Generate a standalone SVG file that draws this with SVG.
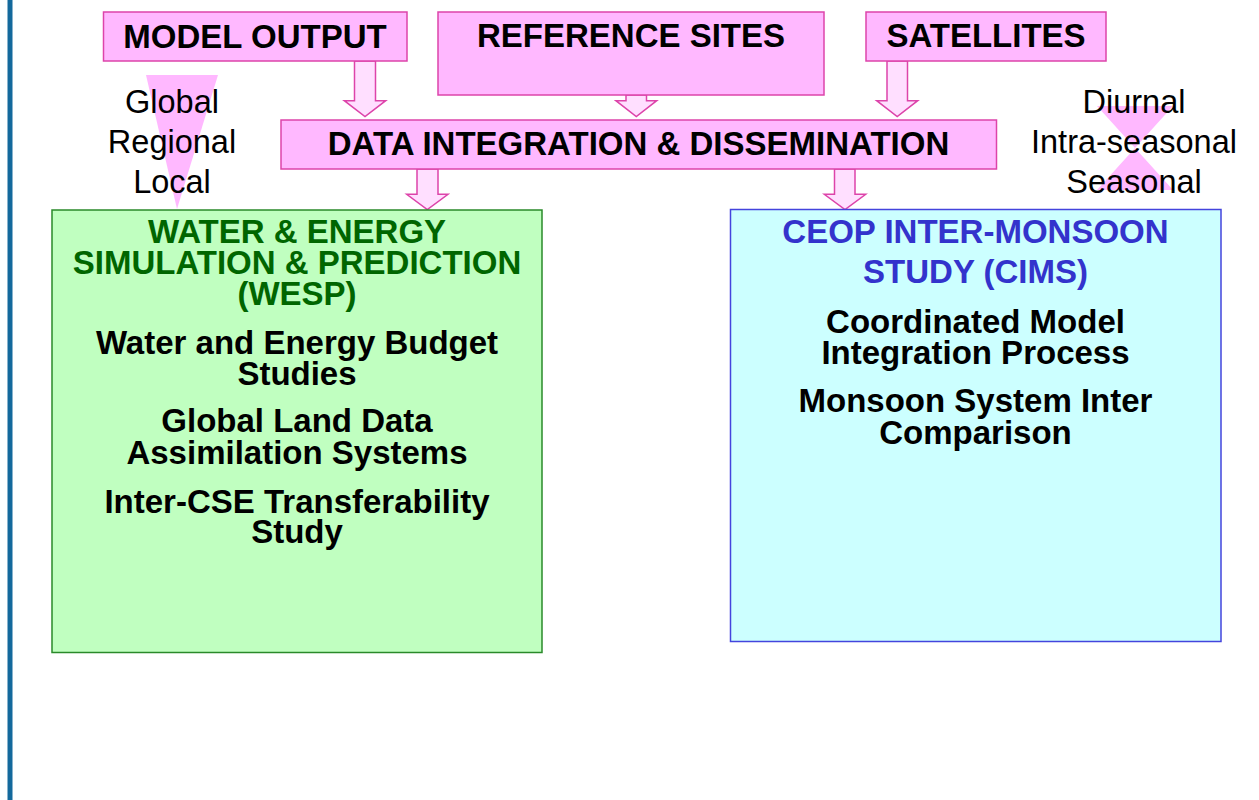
<svg xmlns="http://www.w3.org/2000/svg" width="1259" height="800" viewBox="0 0 1259 800">
<style>
  .src { fill: #ffb8ff; stroke: #dd44aa; stroke-width: 1.5; }
  .arr { fill: #ffdfff; stroke: #dd44aa; stroke-width: 1.5; stroke-linejoin: miter; }
  .deco { fill: #ffb8ff; stroke: none; }
  .hd { font-family: "Liberation Sans", Arial, sans-serif; font-weight: bold; font-size: 33px; fill: #000; text-anchor: middle; }
  .lbl { font-family: "Liberation Sans", Arial, sans-serif; font-size: 32.5px; fill: #000; text-anchor: middle; }
  .gt { fill: #006600; }
  .bt { fill: #3333cc; }
</style>
<rect x="0" y="0" width="1259" height="800" fill="#ffffff"/>
<rect x="7.5" y="0" width="5" height="800" fill="#13699c"/>

<g id="scale-left">
  <polygon class="deco" points="146,75 218,75 177,209"/>
  <text class="lbl" x="172" y="113">Global</text>
  <text class="lbl" x="172" y="153">Regional</text>
  <text class="lbl" x="172" y="193">Local</text>
</g>
<g id="scale-right">
  <polygon class="deco" points="1097,106 1173,106 1135,148 1173,190 1097,190 1135,148"/>
  <text class="lbl" x="1134" y="113">Diurnal</text>
  <text class="lbl" x="1134" y="153">Intra-seasonal</text>
  <text class="lbl" x="1134" y="193">Seasonal</text>
</g>

<g id="connectors">
  <polygon class="arr" points="354.5,61 375.5,61 375.5,100.7 385.7,100.7 365,116.5 344.3,100.7 354.5,100.7"/>
  <polygon class="arr" points="626,95 646.5,95 646.5,100.7 656.7,100.7 636.3,116.5 615.9,100.7 626,100.7"/>
  <polygon class="arr" points="887,61 907.5,61 907.5,100.7 917.7,100.7 897.2,116.5 876.7,100.7 887,100.7"/>
  <polygon class="arr" points="417,169 438,169 438,194.3 448,194.3 427.3,209.5 406.7,194.3 417,194.3"/>
  <polygon class="arr" points="834.5,169 855,169 855,194.3 865.7,194.3 845,209.5 824.3,194.3 834.5,194.3"/>
</g>

<g id="model-output">
  <rect class="src" x="103.5" y="12" width="303.5" height="49"/>
  <text class="hd" x="255" y="47.5">MODEL OUTPUT</text>
</g>
<g id="reference-sites">
  <rect class="src" x="438" y="12" width="386" height="83"/>
  <text class="hd" x="631" y="47">REFERENCE SITES</text>
</g>
<g id="satellites">
  <rect class="src" x="866" y="12" width="240" height="49"/>
  <text class="hd" x="986" y="47">SATELLITES</text>
</g>
<g id="data-integration">
  <rect class="src" x="281" y="120" width="715.5" height="49"/>
  <text class="hd" x="638.5" y="155">DATA INTEGRATION &amp; DISSEMINATION</text>
</g>

<g id="wesp">
  <rect x="52" y="210" width="490" height="442.5" fill="#c0ffc0" stroke="#2a8a2a" stroke-width="1.5"/>
  <text class="hd gt" x="297" y="243">WATER &amp; ENERGY</text>
  <text class="hd gt" x="297" y="274">SIMULATION &amp; PREDICTION</text>
  <text class="hd gt" x="297" y="305">(WESP)</text>
  <text class="hd" x="297" y="353.5">Water and Energy Budget</text>
  <text class="hd" x="297" y="384.5">Studies</text>
  <text class="hd" x="297" y="431.5">Global Land Data</text>
  <text class="hd" x="297" y="463.5">Assimilation Systems</text>
  <text class="hd" x="297" y="512.5">Inter-CSE Transferability</text>
  <text class="hd" x="297" y="542.5">Study</text>
</g>

<g id="cims">
  <rect x="730.5" y="209.5" width="490.5" height="432" fill="#ccffff" stroke="#4444dd" stroke-width="1.5"/>
  <text class="hd bt" x="975.5" y="243">CEOP INTER-MONSOON</text>
  <text class="hd bt" x="975.5" y="282.5">STUDY (CIMS)</text>
  <text class="hd" x="975.5" y="333">Coordinated Model</text>
  <text class="hd" x="975.5" y="363.5">Integration Process</text>
  <text class="hd" x="975.5" y="412">Monsoon System Inter</text>
  <text class="hd" x="975.5" y="443.5">Comparison</text>
</g>
</svg>
